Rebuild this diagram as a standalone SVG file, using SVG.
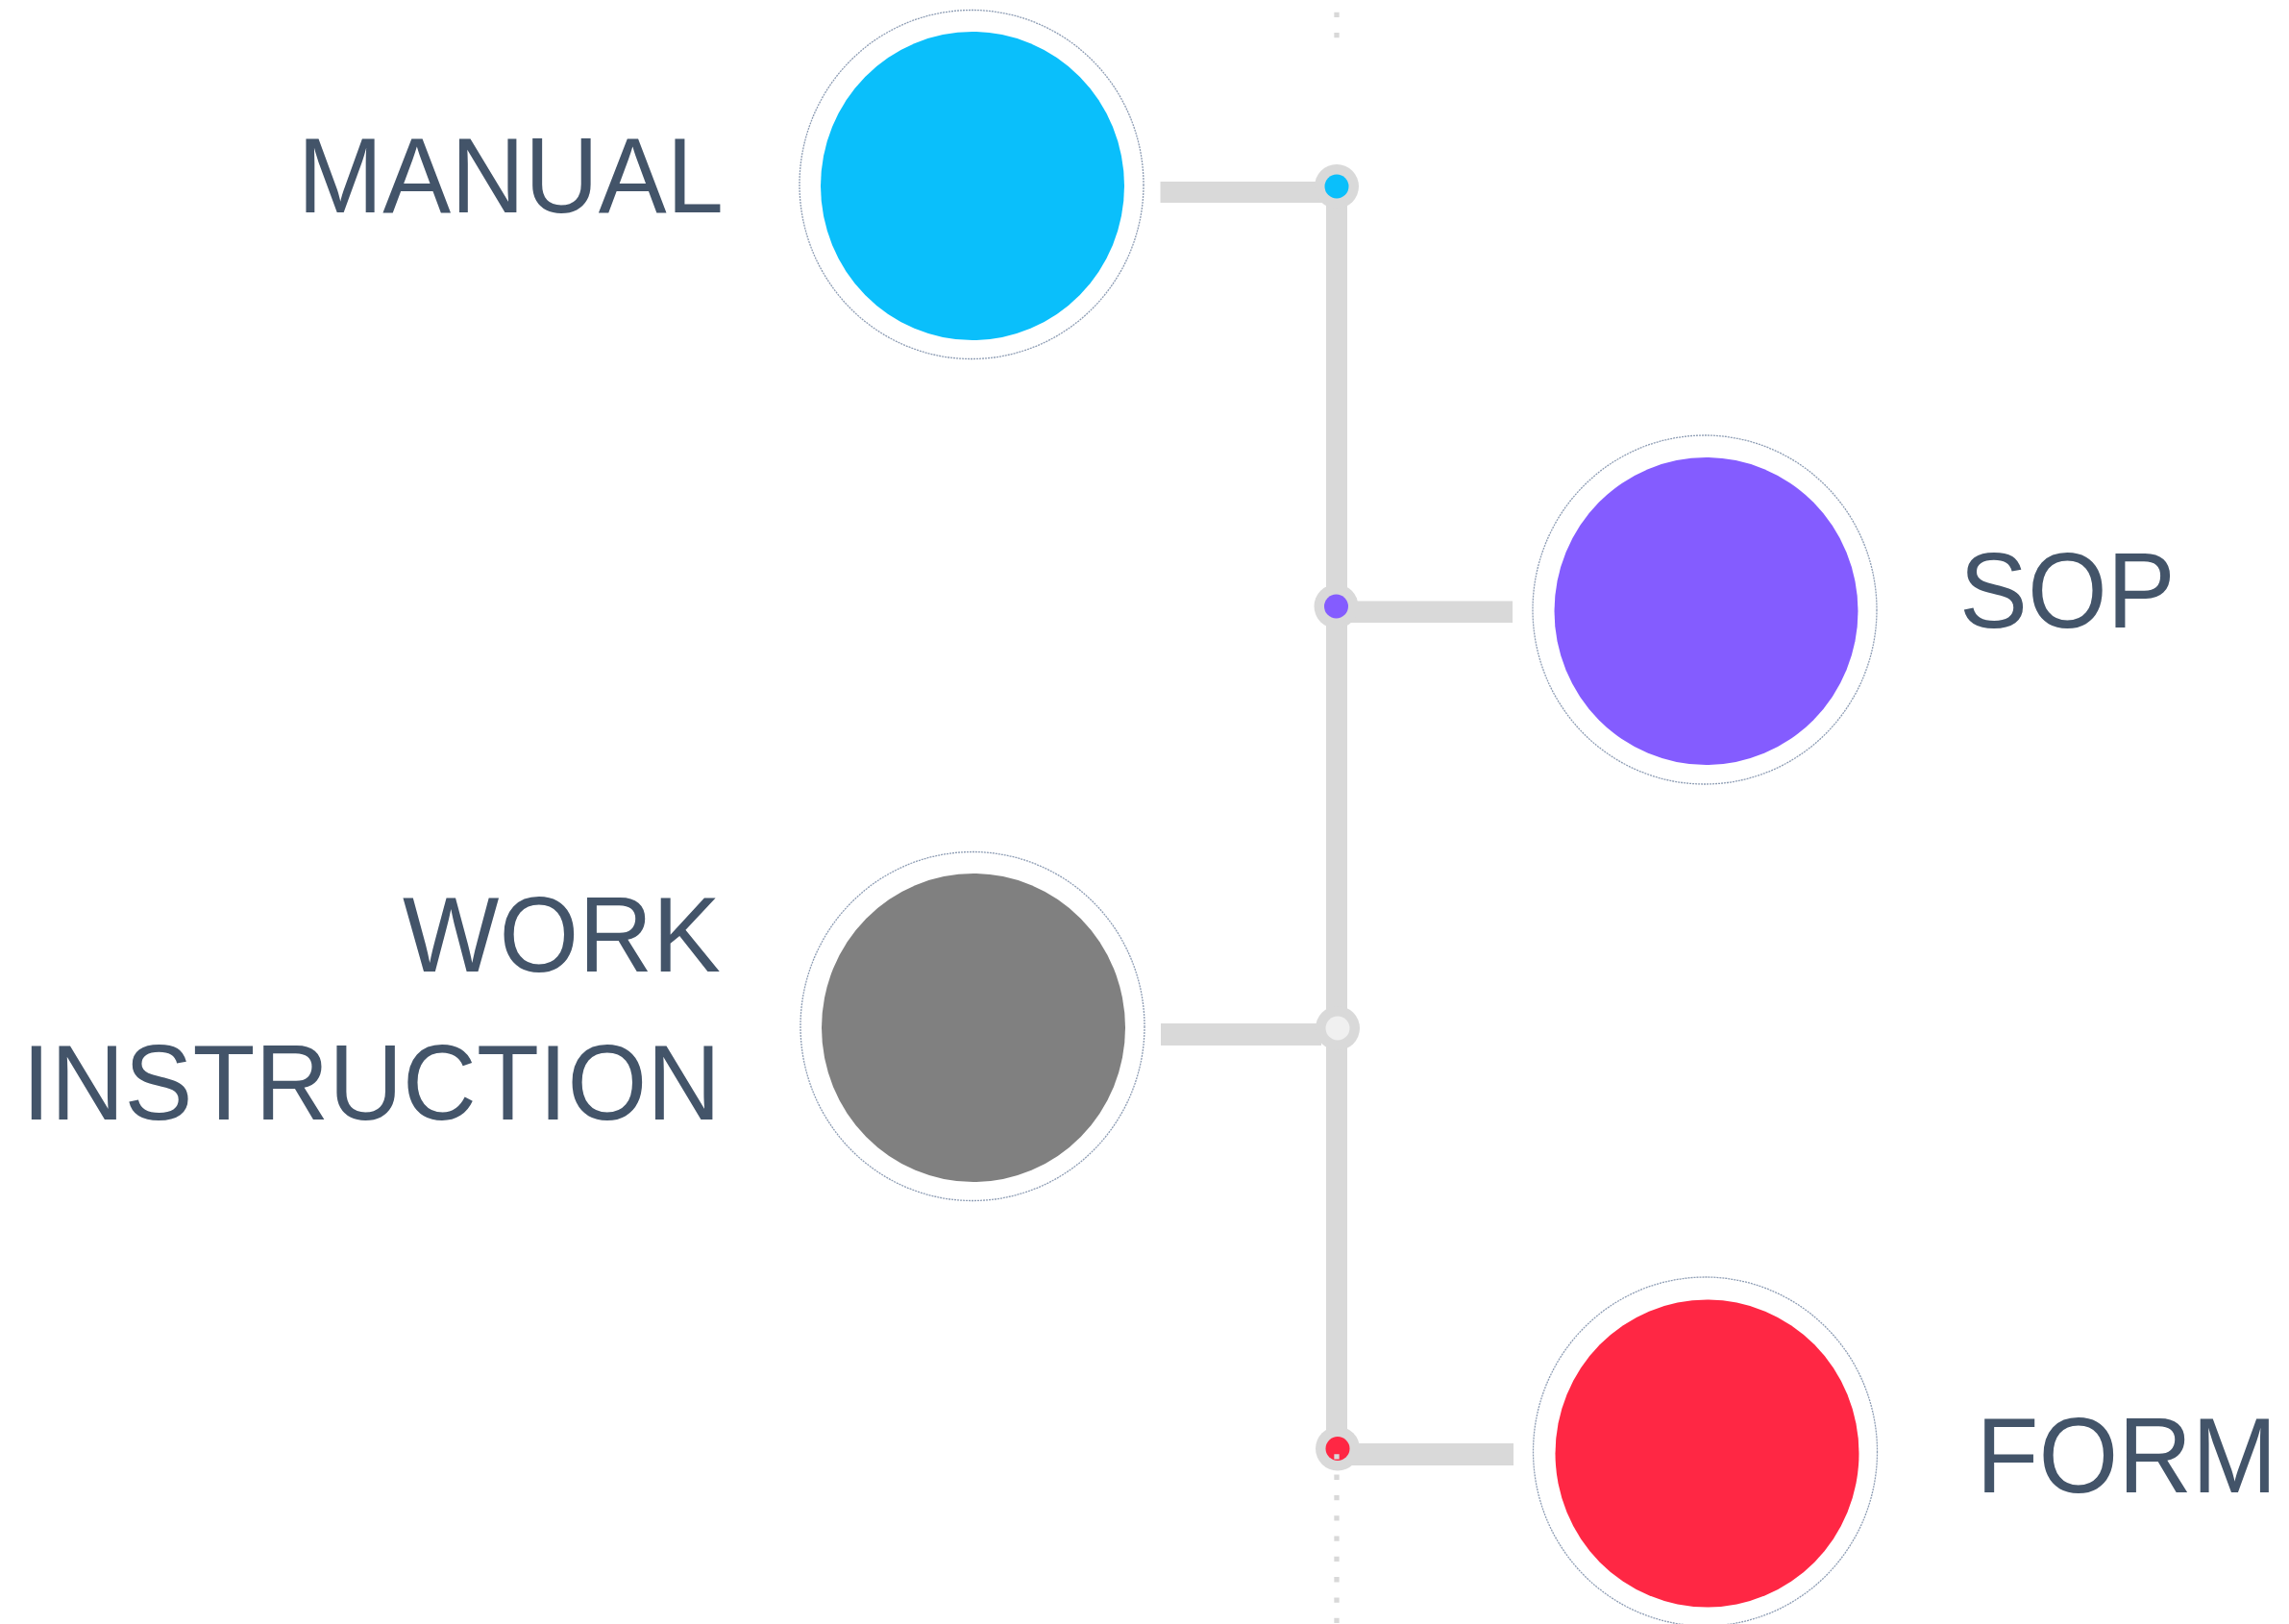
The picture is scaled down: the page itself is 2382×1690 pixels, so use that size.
<svg xmlns="http://www.w3.org/2000/svg" width="2382" height="1690" viewBox="0 0 2382 1690">
  <style>
    .ring { fill: #ffffff; stroke: #8e9db4; stroke-width: 1.3; stroke-dasharray: 2 1; }
    .bar { fill: #d9d9d9; }
    .jring { fill: #d9d9d9; }
    .dots { stroke: #d9d9d9; stroke-width: 5.3; stroke-dasharray: 5.3 16; fill: none; }
    .label { font-family: "Liberation Sans", Arial, sans-serif; font-size: 112px; fill: #435469; }
  </style>
  <rect width="2382" height="1690" fill="#ffffff"/>

  <g id="connectors">
    <line class="dots" x1="1391" y1="12.7" x2="1391" y2="44"/>
    <rect class="bar" x="1380" y="194" width="22" height="1313"/>
    <rect class="bar" x="1207.5" y="189" width="172.5" height="22"/>
    <rect class="bar" x="1395" y="625.5" width="179" height="22.5"/>
    <rect class="bar" x="1208" y="1065" width="167" height="23"/>
    <rect class="bar" x="1395" y="1502" width="180" height="23"/>
    <circle class="jring" cx="1391" cy="194" r="23"/>
    <circle cx="1391" cy="194" r="12.5" fill="#0abffb"/>
    <circle class="jring" cx="1390.5" cy="631" r="23"/>
    <circle cx="1390.5" cy="631" r="12.5" fill="#845cff"/>
    <circle class="jring" cx="1392" cy="1070" r="23"/>
    <circle cx="1392" cy="1070" r="12.5" fill="#f0f0f0"/>
    <circle class="jring" cx="1392" cy="1507.5" r="23"/>
    <circle cx="1392" cy="1507.5" r="12.5" fill="#ff2744"/>
    <line class="dots" x1="1391" y1="1513.3" x2="1391" y2="1690"/>
  </g>

  <g id="node-manual">
    <ellipse class="ring" cx="1011" cy="192" rx="179" ry="181.5"/>
    <ellipse cx="1012" cy="193.5" rx="158" ry="160.5" fill="#0abffb"/>
    <text class="label" transform="translate(753 220.7) scale(0.95 1)" text-anchor="end">MANUAL</text>
  </g>

  <g id="node-sop">
    <ellipse class="ring" cx="1774" cy="634.5" rx="179" ry="181.5"/>
    <ellipse cx="1775.5" cy="636" rx="158" ry="160" fill="#845cff"/>
    <text class="label" transform="translate(2039 653) scale(0.95 1)" text-anchor="start">SOP</text>
  </g>

  <g id="node-work-instruction">
    <ellipse class="ring" cx="1012" cy="1068" rx="179" ry="181.5"/>
    <ellipse cx="1013" cy="1069.5" rx="158" ry="160.5" fill="#808080"/>
    <text class="label" transform="translate(750 1011) scale(0.95 1)" text-anchor="end">WORK</text>
    <text class="label" transform="translate(750 1165) scale(0.95 1)" text-anchor="end">INSTRUCTION</text>
  </g>

  <g id="node-form">
    <ellipse class="ring" cx="1774.5" cy="1510.5" rx="179" ry="181.5"/>
    <ellipse cx="1776.5" cy="1512.5" rx="158" ry="160" fill="#ff2744"/>
    <text class="label" transform="translate(2056.5 1552.5) scale(0.95 1)" text-anchor="start">FORM</text>
  </g>
</svg>
